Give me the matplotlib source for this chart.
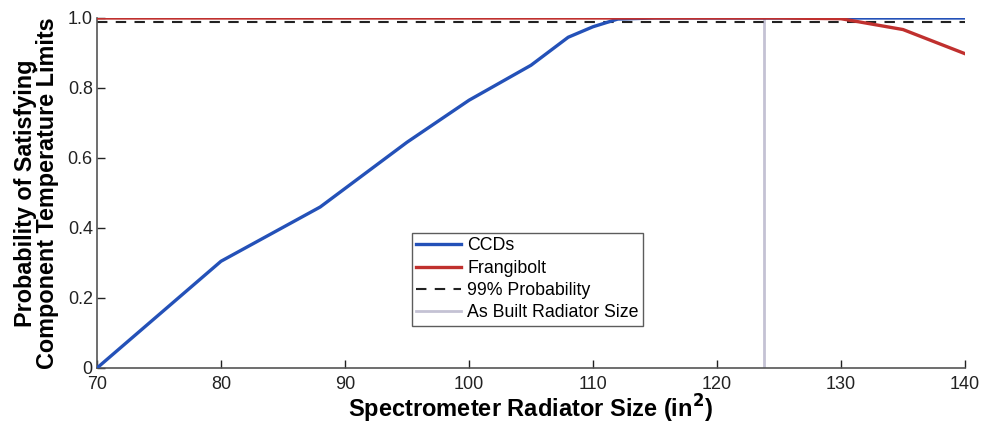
import matplotlib
matplotlib.use("Agg")
import matplotlib.pyplot as plt

plt.rcParams['font.family'] = ['Liberation Sans', 'DejaVu Sans']

# Radiator size sweep (in^2)
ccd_x = [70, 80, 88, 95, 100, 105, 108, 110, 112, 115, 120, 125, 130, 135, 140]
ccd_y = [0.0, 0.305, 0.46, 0.645, 0.765, 0.865, 0.945, 0.975, 0.997, 1.0, 1.0, 1.0, 1.0, 1.0, 1.0]

frangi_x = [70, 80, 90, 100, 110, 120, 125, 130, 135, 140]
frangi_y = [1.0, 1.0, 1.0, 1.0, 1.0, 1.0, 1.0, 0.998, 0.967, 0.898]

threshold = 0.99
as_built_size = 123.8

xticks = [70, 80, 90, 100, 110, 120, 130, 140]
yticks = [0, 0.2, 0.4, 0.6, 0.8, 1.0]
ytick_labels = ['0', '0.2', '0.4', '0.6', '0.8', '1.0']

fig = plt.figure(figsize=(9.84, 4.25), dpi=100)
ax = fig.add_axes([97/984, 57/425, 868/984, 350/425])

ax.plot(ccd_x, ccd_y, color='#2451b8', lw=2.4, label='CCDs', zorder=3)
ax.plot(frangi_x, frangi_y, color='#c0302e', lw=2.4, label='Frangibolt', zorder=4)
ax.plot([xticks[0], xticks[-1]], [threshold, threshold], color='#222222', lw=1.5,
        ls=(0, (5, 4)), label='99% Probability', zorder=2)
ax.plot([as_built_size, as_built_size], [0, 1], color='#c4c2d4', lw=2.0,
        label='As Built Radiator Size', zorder=1)

ax.set_xlim(70, 140)
ax.set_ylim(0, 1.0)
ax.set_xticks(xticks)
ax.set_yticks(yticks)
ax.set_yticklabels(ytick_labels)
ax.tick_params(direction='in', length=6, width=1, labelsize=13, colors='#222222')
ax.tick_params(axis='x', pad=5.5)
ax.tick_params(axis='y', pad=3)
for side in ('top', 'right'):
    ax.spines[side].set_visible(False)
for side in ('left', 'bottom'):
    ax.spines[side].set_color('#555555')
    ax.spines[side].set_linewidth(1.2)

ax.set_xlabel('Spectrometer Radiator Size (in$^\\mathbf{2}$)', fontsize=17,
              fontweight='bold', labelpad=0)
ax.set_ylabel('Probability of Satisfying\nComponent Temperature Limits', fontsize=16.8,
              fontweight='bold', labelpad=6, linespacing=0.95)

leg = ax.legend(loc='upper left', bbox_to_anchor=(412/984, 1 - 233/425),
                bbox_transform=fig.transFigure, fontsize=12.8, frameon=True,
                fancybox=False, handlelength=2.5, handletextpad=0.35,
                borderpad=0.25, labelspacing=0.3, borderaxespad=0)
leg.get_frame().set_edgecolor('#333333')
leg.get_frame().set_linewidth(1.0)

fig.savefig('out.png', dpi=100)
